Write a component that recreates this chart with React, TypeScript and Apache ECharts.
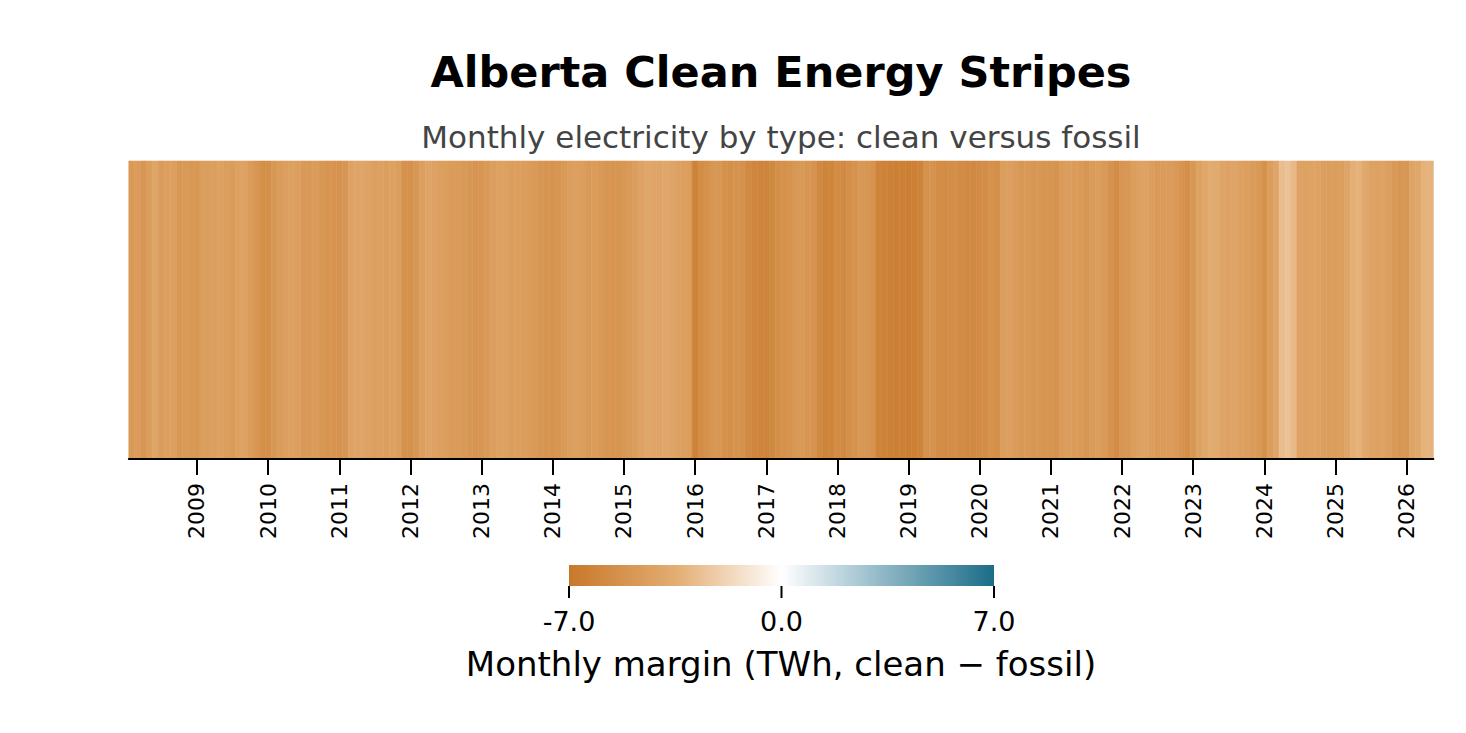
import React, { useEffect, useRef } from "react";
import * as echarts from "echarts";

// Monthly margin (TWh, clean − fossil), one value per month
const START_YEAR = 2008;
const START_MONTH = 2; // first stripe: Feb 2008
const m2008 = [-4.75, -4.6, -5.0, -4.5, -4.0, -4.6, -4.4, -4.4, -4.9, -4.75, -4.9];
const m2009 = [-4.9, -4.5, -4.5, -4.4, -4.3, -4.5, -4.6, -4.3, -4.2, -4.6, -5.0, -5.5];
const m2010 = [-5.5, -4.9, -4.6, -4.4, -4.3, -4.4, -4.75, -4.75, -4.6, -4.9, -5.1, -5.1];
const m2011 = [-5.2, -5.0, -4.2, -4.0, -4.0, -4.2, -4.4, -4.3, -4.4, -4.3, -4.5, -5.3];
const m2012 = [-5.3, -4.9, -4.4, -4.0, -4.2, -4.4, -4.5, -4.6, -4.6, -4.75, -4.9, -5.1];
const m2013 = [-5.0, -4.75, -4.4, -4.3, -4.3, -4.5, -4.4, -4.5, -4.6, -4.75, -5.0, -5.1];
const m2014 = [-5.2, -5.1, -4.75, -4.5, -4.4, -4.5, -4.75, -4.6, -4.75, -5.0, -5.1, -5.0];
const m2015 = [-4.9, -4.75, -4.5, -4.2, -3.9, -4.0, -4.0, -3.9, -4.0, -4.3, -4.4, -4.5];
const m2016 = [-6.3, -5.6, -5.3, -5.0, -4.9, -5.3, -5.5, -5.2, -5.3, -5.8, -6.1, -6.2];
const m2017 = [-6.2, -5.9, -5.5, -5.3, -5.2, -4.9, -4.75, -5.0, -5.2, -5.9, -6.2, -6.1];
const m2018 = [-5.7, -5.8, -5.5, -5.2, -4.9, -5.0, -5.2, -6.2, -6.3, -6.4, -6.5, -6.4];
const m2019 = [-6.5, -6.4, -6.2, -5.3, -5.2, -5.6, -5.7, -5.6, -5.5, -5.7, -5.8, -5.9];
const m2020 = [-5.7, -5.6, -5.3, -5.5, -4.5, -4.4, -4.6, -4.9, -4.75, -5.0, -4.9, -5.0];
const m2021 = [-5.1, -5.2, -4.6, -4.5, -4.6, -4.75, -5.0, -4.6, -4.5, -4.75, -5.2, -5.6];
const m2022 = [-5.0, -4.9, -4.5, -4.3, -4.2, -4.5, -4.75, -4.6, -4.6, -4.75, -5.1, -5.5];
const m2023 = [-4.9, -4.3, -3.9, -3.6, -3.7, -4.0, -4.2, -4.0, -4.3, -4.4, -4.6, -4.75];
const m2024 = [-5.3, -4.5, -4.0, -2.8, -2.6, -3.0, -4.2, -4.3, -4.2, -4.2, -4.4, -4.5];
const m2025 = [-4.5, -4.4, -4.0, -3.4, -3.3, -3.8, -4.2, -4.3, -4.2, -4.4, -4.75, -5.0];
const m2026 = [-4.9, -4.0, -3.9, -3.3, -3.2];

const yearTicks = [2009, 2010, 2011, 2012, 2013, 2014, 2015, 2016, 2017, 2018, 2019, 2020, 2021, 2022, 2023, 2024, 2025, 2026];
const colorbarTicks = [-7, 0, 7];
const colorStops = ["#c8782a", "#e3ad72", "#ffffff", "#8ab4c4", "#1b6d88"]; // -7 .. 7

const TITLE = "Alberta Clean Energy Stripes";
const SUBTITLE = "Monthly electricity by type: clean versus fossil";
const CB_LABEL = "Monthly margin (TWh, clean \u2212 fossil)";

const FONT = "DejaVu Sans";

export default function App() {
  const ref = useRef<HTMLDivElement>(null);
  useEffect(() => {
    if (!ref.current) return;
    const chart = echarts.init(ref.current, undefined, { renderer: "svg" });
    const all = [m2008, m2009, m2010, m2011, m2012, m2013, m2014, m2015, m2016, m2017, m2018, m2019, m2020, m2021, m2022, m2023, m2024, m2025, m2026].flat();
    const first = START_MONTH - 1; // months since Jan of START_YEAR
    const data = all.map((v, i) => [first + i, 0.5, v]);
    const xMin = first - 0.5;
    const xMax = first + all.length - 1 + 0.5;
    const tickVals = yearTicks.map((y) => (y - START_YEAR) * 12);

    const cbX0 = 569, cbX1 = 994, cbY = 565, cbH = 21;
    const cbPos = (v: number) => cbX0 + ((v + 7) / 14) * (cbX1 - cbX0);
    const graphics: any[] = [
      { type: "text", x: 781, y: 72, style: { text: TITLE, font: `bold 43px "${FONT}"`, fill: "#000", align: "center", verticalAlign: "middle" } },
      { type: "text", x: 781, y: 137, style: { text: SUBTITLE, font: `31px "${FONT}"`, fill: "#444", align: "center", verticalAlign: "middle" } },
      {
        type: "rect",
        shape: { x: cbX0, y: cbY, width: cbX1 - cbX0, height: cbH },
        style: {
          fill: new echarts.graphic.LinearGradient(
            0, 0, 1, 0,
            colorStops.map((c, i) => ({ offset: i / (colorStops.length - 1), color: c }))
          ),
        },
      },
      { type: "text", x: 781, y: 664, style: { text: CB_LABEL, font: `34px "${FONT}"`, fill: "#000", align: "center", verticalAlign: "middle" } },
    ];
    colorbarTicks.forEach((t) => {
      const x = cbPos(t);
      graphics.push({ type: "line", shape: { x1: x, y1: cbY + cbH, x2: x, y2: cbY + cbH + 12 }, style: { stroke: "#000", lineWidth: 2 } });
      graphics.push({ type: "text", x, y: 621, style: { text: t.toFixed(1), font: `27px "${FONT}"`, fill: "#000", align: "center", verticalAlign: "middle" } });
    });

    chart.setOption({
      animation: false,
      backgroundColor: "#ffffff",
      grid: { left: 128.8, right: 32.6, top: 161, bottom: 274, containLabel: false },
      xAxis: {
        type: "value",
        z: 5,
        min: xMin,
        max: xMax,
        splitLine: { show: false },
        axisLine: { show: true, onZero: false, lineStyle: { color: "#000", width: 2 } },
        axisTick: { show: true, customValues: tickVals, length: 16, lineStyle: { color: "#000", width: 2 } },
        axisLabel: {
          show: true,
          customValues: tickVals,
          rotate: 90,
          margin: 24,
          fontSize: 22,
          fontFamily: FONT,
          color: "#000",
          formatter: (v: number) => String(START_YEAR + Math.round(v / 12)),
        },
      },
      yAxis: { type: "value", min: 0, max: 1, show: false },
      visualMap: {
        show: false,
        type: "continuous",
        min: -7,
        max: 7,
        dimension: 2,
        seriesIndex: 0,
        inRange: { color: colorStops },
      },
      series: [
        {
          type: "custom",
          z: 2,
          encode: { x: 0, y: 1 },
          data,
          renderItem: (params: any, api: any) => {
            const c = api.value(0);
            const p0 = api.coord([c - 0.5, 1]);
            const p1 = api.coord([c + 0.5, 0]);
            const color = api.visual("color");
            return {
              type: "rect",
              shape: { x: p0[0], y: p0[1], width: p1[0] - p0[0], height: p1[1] - p0[1] },
              style: { fill: color, stroke: color, lineWidth: 0.6 },
            };
          },
        },
      ],
      graphic: graphics,
    });
    return () => chart.dispose();
  }, []);
  return <div ref={ref} style={{ position: "fixed", left: 0, top: 0, width: 1466, height: 733 }} />;
}
